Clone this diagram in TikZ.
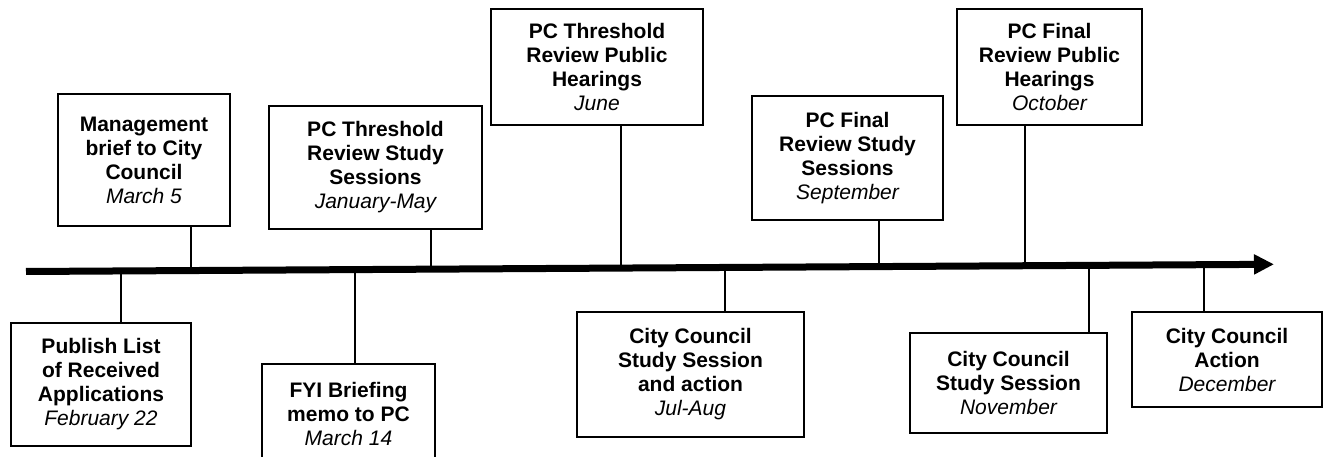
\documentclass[tikz,border=0pt]{standalone}
\usepackage{fontspec}
\setmainfont{Liberation Sans}
\usetikzlibrary{arrows.meta}
\newcommand{\evdate}[1]{{\mdseries\itshape #1}}
\begin{document}
\begin{tikzpicture}[x=1pt, y=-1pt,
    box/.style={draw, line width=1.6pt, align=center, inner sep=0pt,
        font=\fontsize{21}{24}\selectfont\bfseries},
    link/.style={line width=2.2pt}]
    \useasboundingbox (0, 0) rectangle (1323, 457);
    % time line
    \coordinate (start) at (26, 271.5);
    \coordinate (stop) at (1274, 264.3);
    \draw [line width=7pt, -{Triangle[length=20pt, width=19pt]}] (start) -- (stop);
    \coordinate (t1) at (121, 271);
    \coordinate (t2) at (191, 270.5);
    \coordinate (t3) at (355, 269.6);
    \coordinate (t4) at (431, 269.2);
    \coordinate (t5) at (621, 268.1);
    \coordinate (t6) at (725, 267.5);
    \coordinate (t7) at (879, 266.6);
    \coordinate (t8) at (1025, 265.7);
    \coordinate (t9) at (1089, 265.4);
    \coordinate (t10) at (1204, 264.7);
    % above the line
    \node [box, minimum width=172pt, minimum height=132pt] (mgmt) at (144, 160)
        {Management\\brief to City\\Council\\\evdate{March 5}};
    \node [box, minimum width=213pt, minimum height=123pt] (thrstudy) at (375.5, 167.5)
        {PC Threshold\\Review Study\\Sessions\\\evdate{January-May}};
    \node [box, minimum width=212pt, minimum height=116pt] (thrpub) at (597, 67)
        {PC Threshold\\Review Public\\Hearings\\\evdate{June}};
    \node [box, minimum width=191pt, minimum height=124pt] (finstudy) at (847.5, 158)
        {PC Final\\Review Study\\Sessions\\\evdate{September}};
    \node [box, minimum width=185pt, minimum height=116pt] (finpub) at (1049.5, 67)
        {PC Final\\Review Public\\Hearings\\\evdate{October}};
    % below the line
    \node [box, minimum width=180pt, minimum height=123pt] (publish) at (101, 384.5)
        {Publish List\\of Received\\Applications\\\evdate{February 22}};
    \node [box, minimum width=173pt, minimum height=100pt] (fyi) at (348.5, 414)
        {FYI Briefing\\memo to PC\\\evdate{March 14}};
    \node [box, minimum width=227pt, minimum height=125pt] (julaug) at (690.5, 374.5)
        {City Council\\Study Session\\and action\\\evdate{Jul-Aug}};
    \node [box, minimum width=197pt, minimum height=100pt] (nov) at (1008.5, 383)
        {City Council\\Study Session\\\evdate{November}};
    \node [box, minimum width=190pt, minimum height=95pt] (dec) at (1227, 359.5)
        {City Council\\Action\\\evdate{December}};
    % connectors
    \draw [link] (mgmt.south -| t2) -- (t2);
    \draw [link] (thrstudy.south -| t4) -- (t4);
    \draw [link] (thrpub.south -| t5) -- (t5);
    \draw [link] (finstudy.south -| t7) -- (t7);
    \draw [link] (finpub.south -| t8) -- (t8);
    \draw [link] (t1) -- (publish.north -| t1);
    \draw [link] (t3) -- (fyi.north -| t3);
    \draw [link] (t6) -- (julaug.north -| t6);
    \draw [link] (t9) -- (nov.north -| t9);
    \draw [link] (t10) -- (dec.north -| t10);
\end{tikzpicture}
\end{document}
